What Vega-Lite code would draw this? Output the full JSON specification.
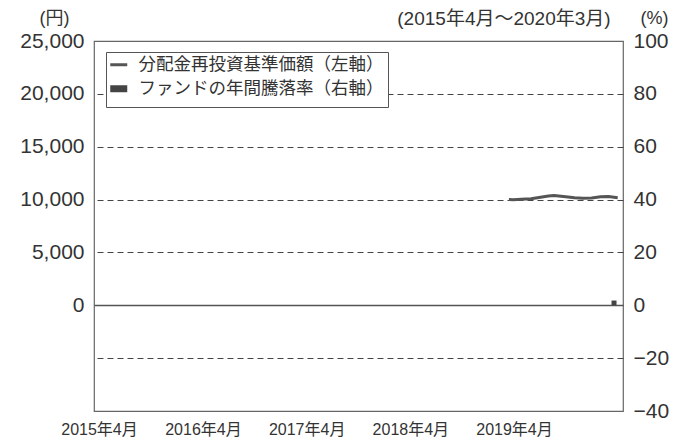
{
  "$schema": "https://vega.github.io/schema/vega-lite/v6.json",
  "width": 529,
  "height": 370,
  "autosize": {"type": "none"},
  "padding": {"left": 94, "top": 41, "right": 66, "bottom": 31},
  "background": "white",
  "title": {"text": "(2015年4月～2020年3月)", "anchor": "end", "fontSize": 19, "fontWeight": "normal", "color": "#333", "font": "Liberation Sans, Noto Sans CJK JP", "dx": -58, "dy": 24, "offset": 4},
  "config": {
    "view": {"stroke": "#666", "strokeWidth": 1.2},
    "font": "Liberation Sans, Noto Sans CJK JP"
  },
  "datasets": {
    "nav": [
      {"date": "2019-03-14", "value": 10000, "series": "分配金再投資基準価額（左軸）"},
      {"date": "2019-03-29", "value": 9980, "series": "分配金再投資基準価額（左軸）"},
      {"date": "2019-04-26", "value": 10020, "series": "分配金再投資基準価額（左軸）"},
      {"date": "2019-05-31", "value": 10080, "series": "分配金再投資基準価額（左軸）"},
      {"date": "2019-06-28", "value": 10200, "series": "分配金再投資基準価額（左軸）"},
      {"date": "2019-07-31", "value": 10330, "series": "分配金再投資基準価額（左軸）"},
      {"date": "2019-08-20", "value": 10390, "series": "分配金再投資基準価額（左軸）"},
      {"date": "2019-09-30", "value": 10270, "series": "分配金再投資基準価額（左軸）"},
      {"date": "2019-10-31", "value": 10170, "series": "分配金再投資基準価額（左軸）"},
      {"date": "2019-11-29", "value": 10120, "series": "分配金再投資基準価額（左軸）"},
      {"date": "2019-12-30", "value": 10160, "series": "分配金再投資基準価額（左軸）"},
      {"date": "2020-01-31", "value": 10260, "series": "分配金再投資基準価額（左軸）"},
      {"date": "2020-02-28", "value": 10290, "series": "分配金再投資基準価額（左軸）"},
      {"date": "2020-03-31", "value": 10180, "series": "分配金再投資基準価額（左軸）"}
    ],
    "ret": [
      {"date": "2020-03-18", "pct": 1.8, "series": "ファンドの年間騰落率（右軸）"}
    ]
  },
  "layer": [
    {
      "data": {"name": "nav"},
      "mark": {"type": "line", "strokeWidth": 3},
      "encoding": {
        "x": {
          "field": "date", "type": "temporal",
          "scale": {"type": "utc", "domain": [{"year": 2015, "month": 4, "date": 1, "utc": true}, {"year": 2020, "month": 4, "date": 1, "utc": true}]},
          "axis": {
            "values": [
              {"year": 2015, "month": 4, "date": 1, "utc": true},
              {"year": 2016, "month": 4, "date": 1, "utc": true},
              {"year": 2017, "month": 4, "date": 1, "utc": true},
              {"year": 2018, "month": 4, "date": 1, "utc": true},
              {"year": 2019, "month": 4, "date": 1, "utc": true}
            ],
            "format": "%Y年%-m月",
            "domain": false, "ticks": false, "grid": false,
            "labelFontSize": 16, "labelPadding": 10, "labelColor": "#333",
            "labelFont": "Liberation Sans, Noto Sans CJK JP",
            "title": null
          }
        },
        "y": {
          "field": "value", "type": "quantitative",
          "scale": {"domain": [-10000, 25000], "nice": false, "zero": false},
          "axis": {
            "values": [0, 5000, 10000, 15000, 20000, 25000],
            "format": ",.0f",
            "domain": false, "ticks": false, "grid": false,
            "labelFontSize": 21, "labelPadding": 10, "labelColor": "#333",
            "title": "(円)", "titleAngle": 0, "titleX": -40, "titleY": -23,
            "titleAlign": "center", "titleBaseline": "middle",
            "titleFontSize": 18, "titleFontWeight": "normal", "titleColor": "#333",
            "titleFont": "Liberation Sans, Noto Sans CJK JP"
          }
        },
        "color": {
          "field": "series", "type": "nominal",
          "scale": {"domain": ["分配金再投資基準価額（左軸）", "ファンドの年間騰落率（右軸）"], "range": ["#555555", "#444444"]},
          "legend": {
            "orient": "none", "legendX": 12, "legendY": 11,
            "title": null, "padding": 4,
            "strokeColor": "#555", "fillColor": "white",
            "labelFontSize": 17.5, "labelFont": "Noto Sans CJK JP", "labelColor": "#333",
            "labelLimit": 400,
            "labelOffset": 11, "rowPadding": 0,
            "symbolType": "stroke",
            "symbolSize": 289,
            "encode": {
              "symbols": {
                "update": {
                  "strokeWidth": {"signal": "datum.index === 1 ? 7 : 3"},
                  "stroke": {"value": "#4a4a4a"},
                  "opacity": {"value": 1}
                }
              }
            }
          }
        }
      }
    },
    {
      "data": {"name": "ret"},
      "mark": {"type": "bar", "size": 5},
      "encoding": {
        "x": {"field": "date", "type": "temporal"},
        "y": {
          "field": "pct", "type": "quantitative",
          "scale": {"domain": [-40, 100], "nice": false},
          "axis": {
            "orient": "right",
            "values": [-40, -20, 0, 20, 40, 60, 80, 100],
            "domain": false, "ticks": false, "grid": true,
            "gridDash": {"condition": {"test": "datum.value === 0", "value": []}, "value": [6, 4]},
            "gridColor": {"condition": {"test": "datum.value === 0", "value": "#555"}, "value": "#444"},
            "gridWidth": {"condition": {"test": "datum.value === 0", "value": 1.5}, "value": 1},
            "gridOpacity": {"condition": {"test": "datum.value === -40 || datum.value === 100", "value": 0}, "value": 1},
            "labelFontSize": 21, "labelPadding": 10, "labelColor": "#333",
            "title": "(%)", "titleAngle": 0, "titleX": 31, "titleY": -23,
            "titleAlign": "center", "titleBaseline": "middle",
            "titleFontSize": 18, "titleFontWeight": "normal", "titleColor": "#333"
          }
        },
        "color": {"field": "series", "type": "nominal"}
      }
    }
  ],
  "resolve": {"scale": {"y": "independent"}}
}
